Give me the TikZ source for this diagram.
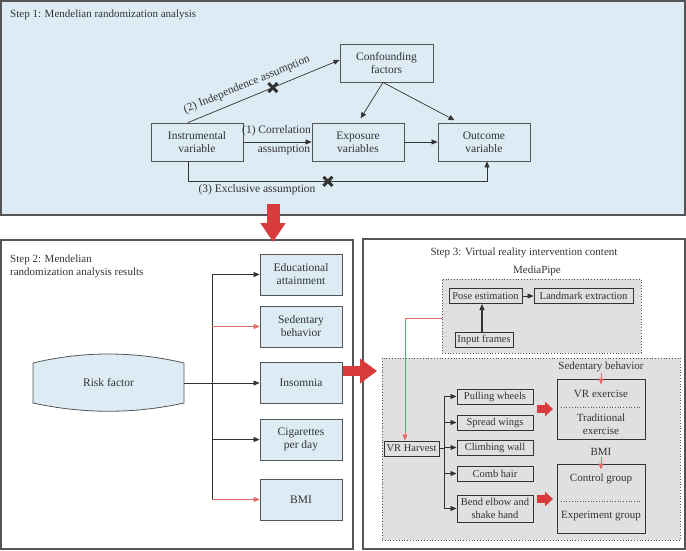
\documentclass[tikz,border=0pt]{standalone}
\usepackage{fontspec}
\setmainfont{Liberation Serif}
\usepackage{xcolor}
\usepackage{tikz}
\usetikzlibrary{calc,arrows.meta}
\definecolor{panel}{HTML}{DDEBF4}
\definecolor{frame}{HTML}{555555}
\definecolor{ink}{HTML}{333333}
\definecolor{redarr}{HTML}{D73B3B}
\definecolor{redline}{HTML}{E56A6A}
\definecolor{graybg}{HTML}{E0E0E1}
\tikzset{
  panelbox/.style={draw=frame, line width=1.1pt},
  note/.style={text=ink, inner sep=1pt, align=center},
  bignote/.style={note, font=\fontsize{11.5}{13}\selectfont},
  mrbox/.style={draw=frame, line width=0.8pt, text=ink, align=center, inner sep=1pt,
    minimum width=92pt, minimum height=38pt, font=\fontsize{11.5}{13}\selectfont},
  riskbox/.style={mrbox, fill=panel, minimum width=82pt, minimum height=41pt},
  dotbox/.style={draw=frame, dotted, line width=0.8pt, fill=graybg, inner sep=0pt},
  vrbox/.style={draw=ink, line width=1pt, text=ink, align=center, inner sep=1pt,
    minimum height=15pt, font=\fontsize{10.5}{12.5}\selectfont},
  grpbox/.style={draw=ink, line width=1pt, inner sep=0pt, minimum width=88pt},
  sep/.style={draw=frame, dotted, line width=0.7pt},
  wire/.style={draw=ink, line width=0.7pt},
  link/.style={draw=ink, line width=0.7pt, -{Triangle[length=6pt,width=5pt]}},
  redlink/.style={draw=redline, line width=0.8pt, -{Triangle[length=6pt,width=5pt]}},
  bigarrow/.style n args={3}{draw=redarr, line width=#1, -{Triangle[length=#2,width=#3]}},
  xmark/.pic={\draw[ink, line width=3pt] (-4.5,-4.5) -- (4.5,4.5) (-4.5,4.5) -- (4.5,-4.5);}
}

\begin{document}
\begin{tikzpicture}[x=1pt, y=-1pt, font=\fontsize{11}{13}\selectfont]
  \useasboundingbox (0,0) rectangle (686,551);

  % step 1
  \draw[panelbox, fill=panel] (1,1) rectangle (685,215);
  \node[note, anchor=west] (t1) at (9,15) {Step 1: Mendelian randomization analysis};
  \node[mrbox] (instr) at (197,142) {Instrumental\\variable};
  \node[mrbox] (expo) at (358,142) {Exposure\\variables};
  \node[mrbox] (outc) at (484,142) {Outcome\\variable};
  \node[mrbox, minimum width=93pt] (conf) at (386.5,63) {Confounding\\factors};

  \draw[link] ([xshift=-9pt]instr.north) -- coordinate[pos=0.56] (cross2)
    node[bignote, pos=0.42, sloped, above=6pt] {(2) Independence assumption}
    ([yshift=3pt]conf.west);
  \draw[link] (instr.east) -- (expo.west);
  \node[bignote] (cor1) at (276.5,131) {(1) Correlation};
  \node[bignote] (cor2) at (284,150) {assumption};
  \draw[link] (expo.east) -- (outc.west);
  \draw[link, shorten >=5pt] ([xshift=-3.5pt]conf.south) -- (expo.north);
  \draw[link, shorten >=5pt] ([xshift=-3.5pt]conf.south) -- ([xshift=-25pt]outc.north);
  \draw[link] ([xshift=-9pt]instr.south) -- ++(0,20) -| coordinate[pos=0.234] (cross3)
    ([xshift=3pt]outc.south);
  \node[bignote] (excl) at (257,190) {(3) Exclusive assumption};
  \pic at (cross2) {xmark};
  \pic at (cross3) {xmark};

  % step 2
  \draw[panelbox] (1,240) rectangle (353,549);
  \node[note, anchor=north west, align=left] (t2) at (9,254)
    {Step 2: Mendelian\\randomization analysis results};
  \draw[draw=frame, fill=panel, line width=0.8pt] (33,363) .. controls (83,351) and (134,351) .. (184,363)
    -- (184,403) .. controls (134,414) and (83,414) .. (33,403) -- cycle;
  \node[bignote, minimum width=151pt, inner sep=0pt] (risk) at (108.5,383) {Risk factor};
  \foreach \n/\y/\t in {edu/274.5/{Educational\\attainment}, sed/326.5/{Sedentary\\behavior},
    ins/383/Insomnia, cig/439.5/{Cigarettes\\per day}, bmi/499.5/BMI}
    \node[riskbox] (\n) at (301,\y) {\t};
  \coordinate (tr) at (212,383);
  \draw[wire] (risk.east) -- (tr);
  \draw[wire] (tr |- edu.west) -- (tr |- bmi.west);
  \foreach \n/\c in {edu/ink, sed/redline, ins/ink, cig/ink, bmi/redline}
    \draw[link, draw=\c] (tr |- \n.west) -- (\n.west);

  % step 3
  \draw[panelbox] (363,239) rectangle (685,549);
  \node[note] (t3) at (524,253) {Step 3: Virtual reality intervention content};
  \node[note] (mp) at (537,271) {MediaPipe};
  \node[dotbox, minimum width=199pt, minimum height=74pt] (mpbox) at (541.5,316) {};
  \node[vrbox, minimum width=73pt] (pose) at (485.5,296) {Pose estimation};
  \node[vrbox, minimum width=99pt] (landmk) at (583.5,296) {Landmark extraction};
  \node[vrbox, minimum width=58pt] (frames) at (484,340) {Input frames};
  \draw[link, line width=1.3pt] ([xshift=-2pt]frames.north) -- ([xshift=-2pt]frames.north |- pose.south);
  \draw[link] (pose.east) -- (landmk.west);

  \node[dotbox, minimum width=298pt, minimum height=182pt] (vrarea) at (531,449) {};
  \node[vrbox, minimum width=55pt] (vrh) at (411.5,448.5) {VR Harvest};
  \foreach \n/\y/\t in {pull/396.5/Pulling wheels, wings/422.5/Spread wings,
    climb/447.5/Climbing wall, comb/473.5/Comb hair}
    \node[vrbox, minimum width=76pt] (\n) at (495,\y) {\t};
  \node[vrbox, minimum width=76pt, minimum height=27pt] (bend) at (495,508.5)
    {Bend elbow and\\shake hand};
  \coordinate (vt) at (444,448.5);
  \draw[wire] (vrh.east) -- (vt);
  \draw[wire] (vt |- pull.west) -- (vt |- bend.west);
  \foreach \n in {pull, wings, climb, comb, bend}
    \draw[link] (vt |- \n.west) -- (\n.west);
  \draw[redlink] ([yshift=-2pt]mpbox.west) -| ([xshift=-6.5pt]vrh.north);

  \node[note] (sedlbl) at (601,367) {Sedentary behavior};
  \node[grpbox, minimum height=60pt] (sedgrp) at (601,409) {};
  \node[note] (vrex) at (601,394) {VR exercise};
  \node[note] (trex) at (601,424.5) {Traditional\\exercise};
  \draw[sep] (561,407) -- (640,407);
  \node[note] (bmilbl) at (601,452) {BMI};
  \node[grpbox, minimum height=69pt] (bmigrp) at (601,498.5) {};
  \node[note] (ctrl) at (601,479) {Control group};
  \node[note] (expg) at (601,516) {Experiment group};
  \draw[sep] (561,501) -- (640,501);
  \draw[redlink, shorten >=-6pt] (sedlbl.south) -- (sedgrp.north);
  \draw[redlink, shorten >=-6pt] (bmilbl.south) -- (bmigrp.north);

  % block arrows
  \draw[bigarrow={8pt}{8pt}{14pt}] (537,409) -- (553,409);
  \draw[bigarrow={8pt}{8pt}{14pt}] (537,499) -- (553,499);
  \draw[bigarrow={13pt}{19pt}{24pt}] (273,204) -- (273,242);
  \draw[bigarrow={10pt}{17pt}{24pt}] (343,371) -- (377,371);
\end{tikzpicture}
\end{document}
